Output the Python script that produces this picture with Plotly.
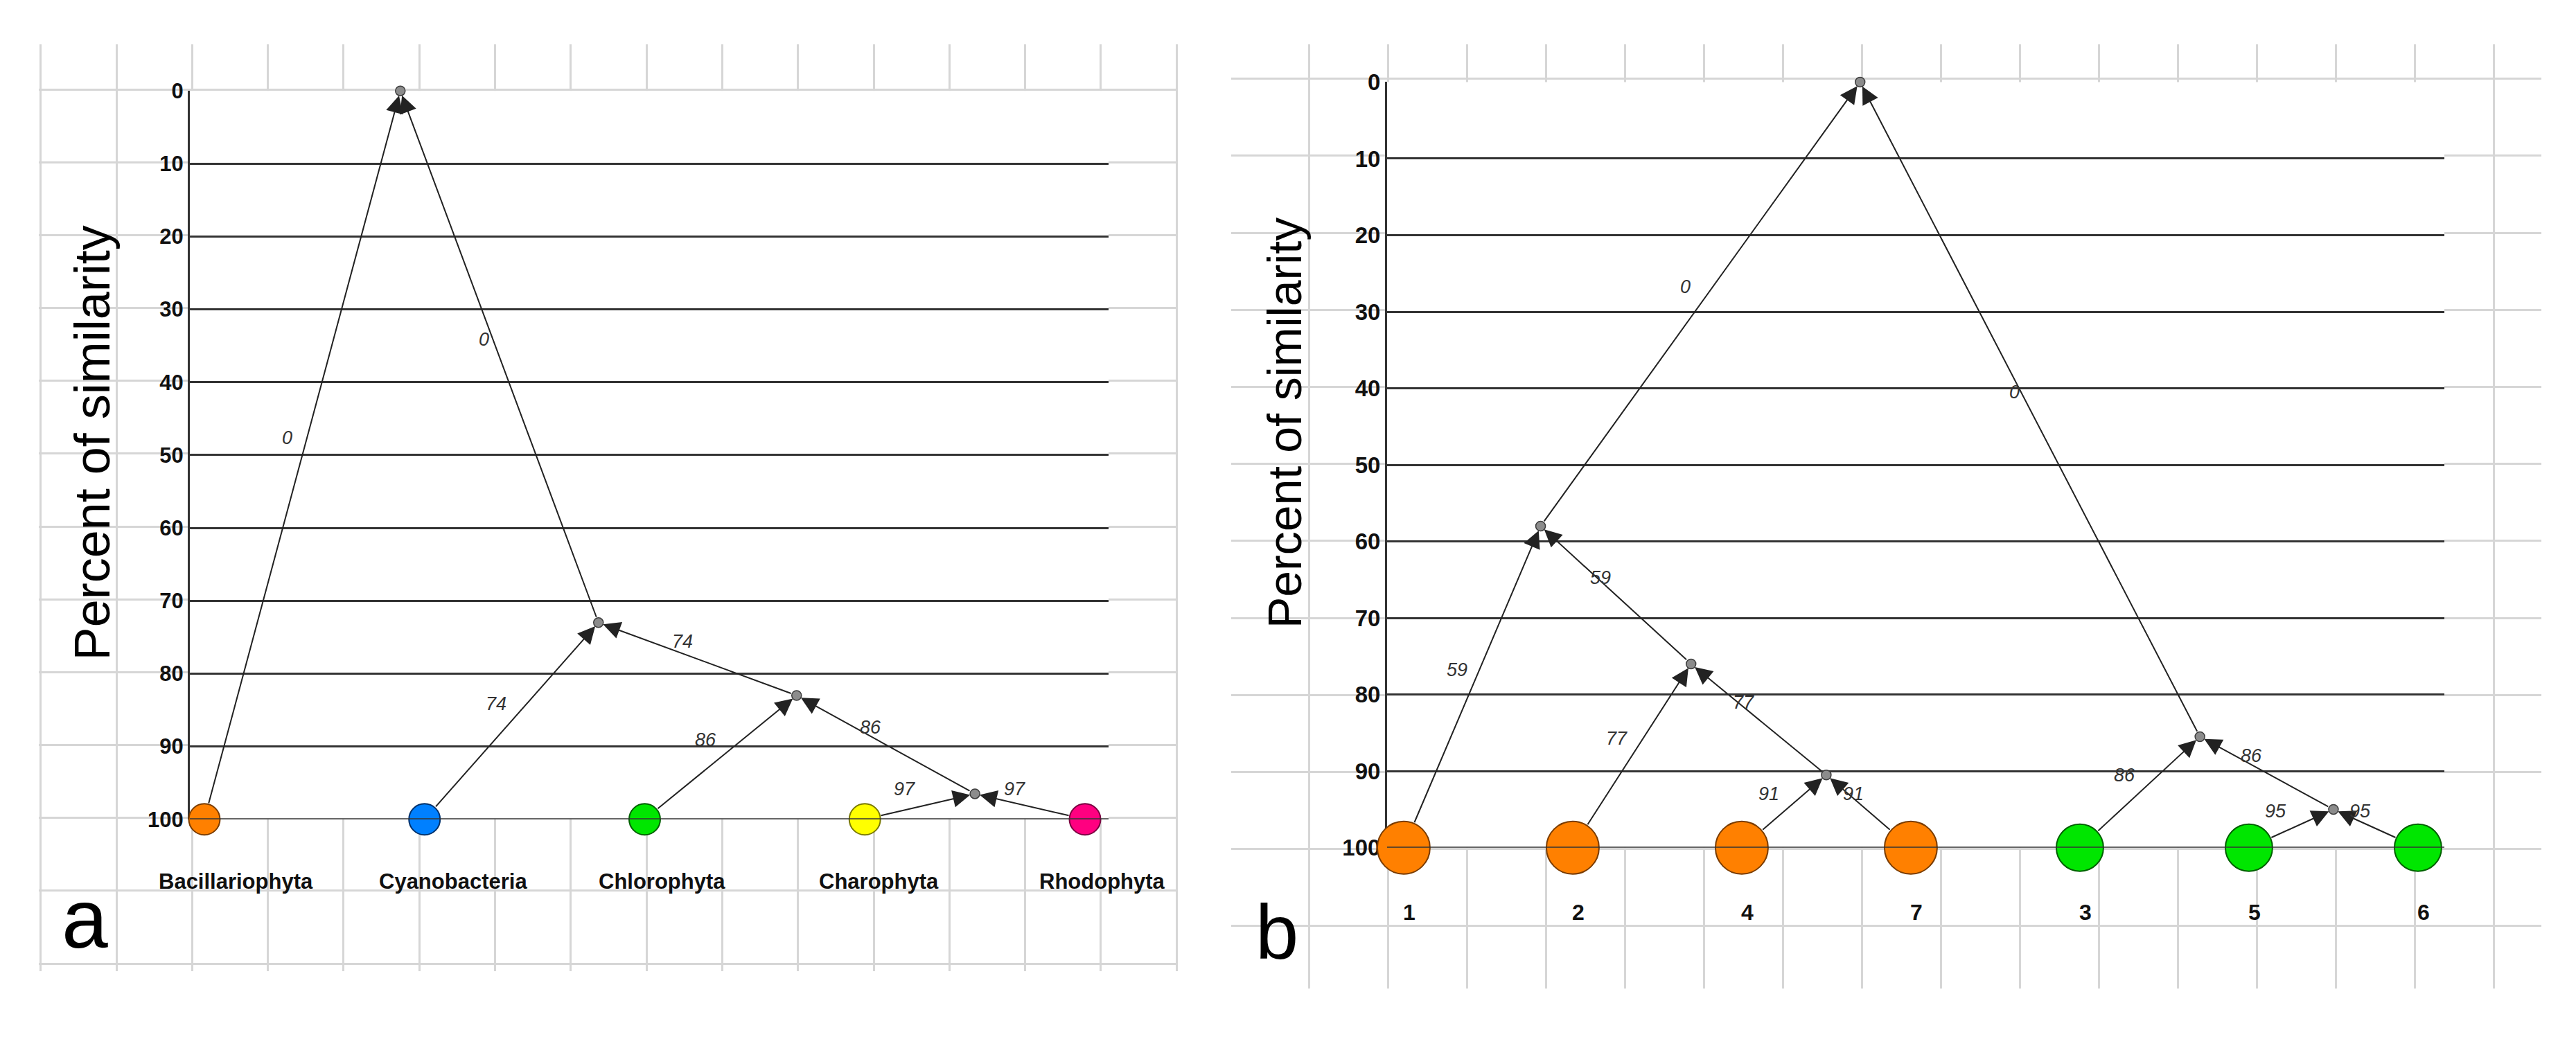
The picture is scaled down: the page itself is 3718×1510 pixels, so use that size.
"""Two similarity dendrograms (a: algal phyla, b: sampling sites) drawn with Plotly."""
import plotly.graph_objects as go

W, H = 3718, 1510

# --------------------------------------------------------------------------- #
# Data
# --------------------------------------------------------------------------- #
# Panel a: leaves sit at similarity 100, internal nodes are numbered after them.
A_LEAVES = ["Bacillariophyta", "Cyanobacteria", "Chlorophyta", "Charophyta", "Rhodophyta"]
A_MERGES = [(3, 4), (2, 5), (1, 6), (0, 7)]
A_NODE_SIM = [96.5, 83, 73, 0]
A_NODE_POS = [3.5, 2.69, 1.79, 0.89]          # horizontal position, leaf units
A_EDGE_LABELS = ["97", "86", "74", "0"]

# Panel b
B_LEAVES = ["1", "2", "4", "7", "3", "5", "6"]
B_GROUP = [1, 1, 1, 1, 2, 2, 2]
B_MERGES = [(2, 3), (1, 7), (0, 8), (5, 6), (4, 10), (9, 11)]
B_NODE_SIM = [90.5, 76, 58, 95, 85.5, 0]
B_NODE_POS = [2.5, 1.70, 0.81, 5.5, 4.71, 2.70]
B_EDGE_LABELS = ["91", "77", "59", "95", "86", "0"]

Y_TICKS = list(range(0, 101, 10))
LEAF_LEVEL = 100

# --------------------------------------------------------------------------- #
# Style
# --------------------------------------------------------------------------- #
A_LEAF_STYLE = {
    "Bacillariophyta": ("#FF8000", "#7a3c00"),
    "Cyanobacteria": ("#0080FF", "#00306a"),
    "Chlorophyta": ("#00E600", "#006000"),
    "Charophyta": ("#FFFF00", "#7a7a00"),
    "Rhodophyta": ("#FF0080", "#7a0040"),
}
B_GROUP_STYLE = {1: ("#FF8000", "#7a3c00", 76), 2: ("#00E600", "#006000", 68)}
A_LEAF_SIZE = 45

LINE = "#333333"
GRID_LIGHT = "#d6d6d6"
EDGE = "#222222"
NODE_FILL = "#8c8c8c"
SANS = "Liberation Sans, Arial, sans-serif"

# pixel boxes of each panel in the 3718x1510 picture
PANEL = {
    "a": dict(plot=(274, 1600, 116, 1194), xr=(-0.066, 4.107),
              grid=(56, 1700, 47, 1419), gx=(168, 109.3), gy=(114, 107.8),
              tick_size=31, title=(133, 637, 72), letter=(123, 1341, 120)),
    "b": dict(plot=(2002, 3528, 103, 1236), xr=(-0.098, 6.156),
              grid=(1777, 3668, 47, 1444), gx=(1889, 114.0), gy=(98, 114.0),
              tick_size=33, title=(1854, 608, 68), letter=(1843, 1361, 112)),
}


def px_x(v):
    return v / W


def px_y(v):
    return 1 - v / H


fig = go.Figure()
layout = dict(width=W, height=H, margin=dict(l=0, r=0, t=0, b=0),
              paper_bgcolor="white", plot_bgcolor="white",
              showlegend=False, hovermode=False)
annotations, shapes = [], []

# background light grid: subplots 1 and 2; dendrograms: subplots 3 and 4
for i, key in enumerate(["a", "b"]):
    p = PANEL[key]
    gx0, gx1, gy0, gy1 = p["grid"]
    n = "" if i == 0 else str(i + 1)
    layout[f"xaxis{n}"] = dict(domain=[px_x(gx0), px_x(gx1)], range=[gx0, gx1],
                               tick0=p["gx"][0], dtick=p["gx"][1], showgrid=True,
                               gridcolor=GRID_LIGHT, gridwidth=3, zeroline=False,
                               showticklabels=False, anchor=f"y{n}", fixedrange=True)
    layout[f"yaxis{n}"] = dict(domain=[px_y(gy1), px_y(gy0)], range=[gy1, gy0],
                               tick0=p["gy"][0], dtick=p["gy"][1], showgrid=True,
                               gridcolor=GRID_LIGHT, gridwidth=3, zeroline=False,
                               showticklabels=False, anchor=f"x{n}", fixedrange=True)
    fig.add_trace(go.Scatter(x=[None], y=[None], xaxis=f"x{n}", yaxis=f"y{n}",
                             hoverinfo="skip"))


def draw_panel(key, sub, leaves, merges, node_sim, node_pos, edge_labels,
               leaf_fill, leaf_line, leaf_size, label_font, label_anchor,
               label_xshift, label_yshift):
    p = PANEL[key]
    x0, x1, y0, y1 = p["plot"]
    xa, ya = f"x{sub}", f"y{sub}"
    layout[f"xaxis{sub}"] = dict(domain=[px_x(x0), px_x(x1)], range=list(p["xr"]),
                                 showgrid=False, zeroline=False, showticklabels=False,
                                 anchor=ya, fixedrange=True)
    layout[f"yaxis{sub}"] = dict(domain=[px_y(y1), px_y(y0)], range=[100, 0],
                                 tickvals=Y_TICKS, showgrid=True, gridcolor=LINE,
                                 gridwidth=3, zeroline=False, showline=True,
                                 linecolor=LINE, linewidth=3, ticks="",
                                 layer="below traces",
                                 tickfont=dict(family=SANS, size=p["tick_size"],
                                               color="#111111", weight="bold"),
                                 anchor=xa, fixedrange=True)

    n_leaves = len(leaves)
    xs = list(range(n_leaves)) + list(node_pos)
    ys = [LEAF_LEVEL] * n_leaves + list(node_sim)
    radius = [s / 2 for s in leaf_size] + [7] * len(node_pos)

    # edges child -> parent with the arrowhead at the parent
    for m, (c1, c2) in enumerate(merges):
        parent = n_leaves + m
        for c in (c1, c2):
            annotations.append(dict(
                xref=xa, yref=ya, axref=xa, ayref=ya,
                x=xs[parent], y=ys[parent], ax=xs[c], ay=ys[c], text="",
                showarrow=True, arrowhead=2, arrowsize=2.5, arrowwidth=2,
                arrowcolor=EDGE, standoff=7, startstandoff=radius[c]))
            annotations.append(dict(
                xref=xa, yref=ya, x=(xs[parent] + xs[c]) / 2,
                y=(ys[parent] + ys[c]) / 2, text=edge_labels[m], showarrow=False,
                xshift=-22, yshift=25,
                font=dict(family=SANS, size=27, color="#333333", style="italic")))

    # line at the leaf level sits on top of the leaf circles
    shapes.append(dict(type="line", xref=f"{xa} domain", yref=ya, x0=0, x1=1,
                       y0=LEAF_LEVEL, y1=LEAF_LEVEL, layer="above",
                       line=dict(color=LINE, width=3)))

    fig.add_trace(go.Scatter(
        x=list(range(n_leaves)), y=[LEAF_LEVEL] * n_leaves, mode="markers",
        xaxis=xa, yaxis=ya, cliponaxis=False, hoverinfo="skip",
        marker=dict(size=leaf_size, color=leaf_fill, opacity=1,
                    line=dict(color=leaf_line, width=2))))
    fig.add_trace(go.Scatter(
        x=list(node_pos), y=list(node_sim), mode="markers", xaxis=xa, yaxis=ya,
        cliponaxis=False, hoverinfo="skip",
        marker=dict(size=14, color=NODE_FILL, opacity=1,
                    line=dict(color="#3c3c3c", width=1.5))))

    for i, name in enumerate(leaves):
        annotations.append(dict(
            xref=xa, yref=ya, x=i, y=LEAF_LEVEL, text=name, showarrow=False,
            xanchor=label_anchor, yanchor="middle", xshift=label_xshift,
            yshift=label_yshift, font=label_font))

    tx, ty, ts = p["title"]
    annotations.append(dict(xref="paper", yref="paper", x=px_x(tx), y=px_y(ty),
                            text="Percent of similarity", textangle=-90,
                            showarrow=False, xanchor="center", yanchor="middle",
                            font=dict(family=SANS, size=ts, color="black")))
    lx, ly, ls = p["letter"]
    annotations.append(dict(xref="paper", yref="paper", x=px_x(lx), y=px_y(ly),
                            text=key, showarrow=False, xanchor="center",
                            yanchor="middle",
                            font=dict(family=SANS, size=ls, color="black")))


draw_panel("a", 3, A_LEAVES, A_MERGES, A_NODE_SIM, A_NODE_POS, A_EDGE_LABELS,
           [A_LEAF_STYLE[n][0] for n in A_LEAVES],
           [A_LEAF_STYLE[n][1] for n in A_LEAVES],
           [A_LEAF_SIZE] * len(A_LEAVES),
           dict(family=SANS, size=31, color="#111111", weight="bold"),
           "left", -68, -90)
draw_panel("b", 4, B_LEAVES, B_MERGES, B_NODE_SIM, B_NODE_POS, B_EDGE_LABELS,
           [B_GROUP_STYLE[g][0] for g in B_GROUP],
           [B_GROUP_STYLE[g][1] for g in B_GROUP],
           [B_GROUP_STYLE[g][2] for g in B_GROUP],
           dict(family=SANS, size=32, color="#111111", weight="bold"),
           "center", 8, -93)

layout["annotations"] = annotations
layout["shapes"] = shapes
fig.update_layout(**layout)

fig.write_html("out.html", config={"displayModeBar": False},
               post_script="document.body.style.margin='0';"
                           "document.body.style.overflow='hidden';")
